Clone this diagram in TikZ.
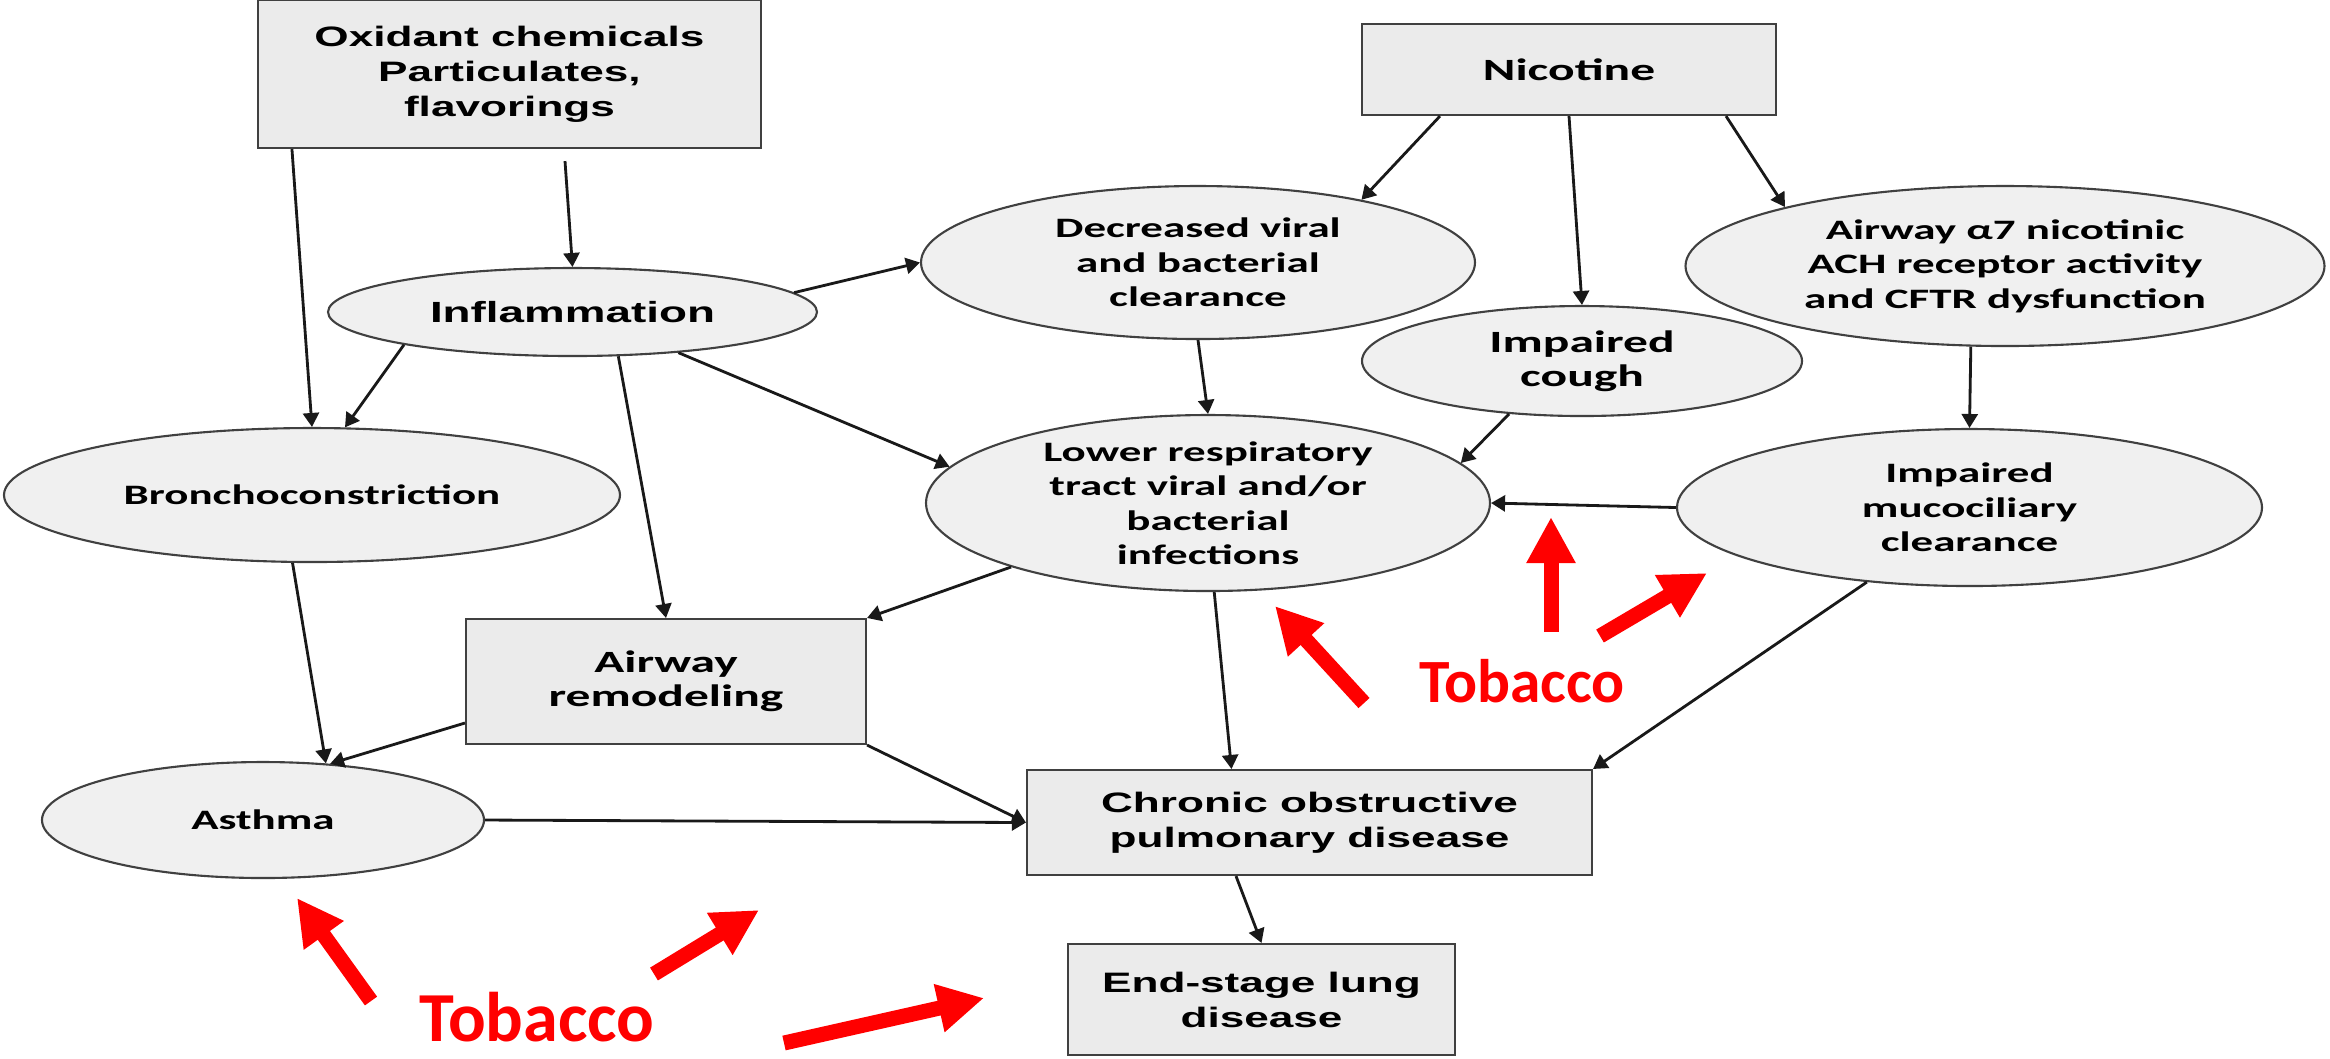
\documentclass[tikz,border=0pt]{standalone}
\usepackage{fontspec}
\usetikzlibrary{arrows.meta,shapes.geometric}
\newfontfamily\arialfont[FakeStretch=1.57]{Liberation Sans}
\newfontfamily\califont[FakeStretch=1.6]{Carlito}
\newfontfamily\tobfont{Carlito}
\definecolor{boxgray}{rgb}{0.92,0.92,0.92}
\definecolor{ellgray}{rgb}{0.94,0.94,0.94}
\definecolor{edgegray}{rgb}{0.25,0.25,0.25}
\definecolor{tobred}{rgb}{1.0,0.0,0.0}

\begin{document}
\begin{tikzpicture}[
  >={Triangle[length=1.4mm, width=1.6mm]},
  factorbox/.style={rectangle, fill=boxgray, draw=edgegray, line width=0.6pt, align=center, inner sep=0pt},
  effect/.style={ellipse, fill=ellgray, draw=edgegray, line width=0.6pt, align=center, inner sep=0pt},
  arialtxt/.style={font=\arialfont\bfseries\fontsize{8}{10}\selectfont},
  caltxt/.style={font=\califont\bfseries\fontsize{8}{9.8}\selectfont},
  calbig/.style={font=\califont\bfseries\fontsize{8.8}{9.8}\selectfont},
  link/.style={->, line width=0.8pt, black!90},
  tobarrow/.style={-{Triangle[length=4.6mm, width=4.6mm]}, line width=1.5mm, tobred},
  toblabel/.style={font=\tobfont\bfseries\fontsize{17.5}{20}\selectfont, text=tobred, inner sep=0pt},
]
\useasboundingbox (0,0) rectangle (23.3,-10.58);

% ---- exposures ----
\node[factorbox, arialtxt, minimum width=5.03cm, minimum height=1.48cm] (oxid) at (5.095,-0.74) {Oxidant chemicals\\Particulates,\\flavorings};
\node[factorbox, calbig, minimum width=4.14cm, minimum height=0.91cm] (nico) at (15.69,-0.695) {Nicotine};

% ---- first effects ----
\node[effect, arialtxt, font=\arialfont\bfseries\fontsize{8.3}{10}\selectfont, minimum width=4.89cm, minimum height=0.88cm] (infl) at (5.725,-3.12) {Inflammation};
\node[effect, caltxt, minimum width=5.54cm, minimum height=1.53cm] (decr) at (11.98,-2.625) {Decreased viral\\and bacterial\\clearance};
\node[effect, calbig, minimum width=4.40cm, minimum height=1.10cm] (cough) at (15.82,-3.61) {Impaired\\cough};
\node[effect, caltxt, minimum width=6.39cm, minimum height=1.60cm] (achr) at (20.05,-2.66) {Airway α7 nicotinic\\ACH receptor activity\\and CFTR dysfunction};

% ---- second effects ----
\node[effect, caltxt, minimum width=6.16cm, minimum height=1.34cm] (bron) at (3.12,-4.95) {Bronchoconstriction};
\node[effect, caltxt, minimum width=5.64cm, minimum height=1.76cm, inner ysep=-4pt] (lrti) at (12.08,-5.03) {Lower respiratory\\tract viral and/or\\bacterial\\infections};
\node[effect, caltxt, minimum width=5.85cm, minimum height=1.57cm] (muco) at (19.695,-5.075) {Impaired\\mucociliary\\clearance};
\node[factorbox, calbig, minimum width=4.00cm, minimum height=1.25cm] (remod) at (6.66,-6.815) {Airway\\remodeling};

% ---- diseases ----
\node[effect, caltxt, minimum width=4.42cm, minimum height=1.16cm] (asth) at (2.63,-8.2) {Asthma};
\node[factorbox, arialtxt, minimum width=5.65cm, minimum height=1.05cm] (copd) at (13.095,-8.225) {Chronic obstructive\\pulmonary disease};
\node[factorbox, arialtxt, minimum width=3.87cm, minimum height=1.11cm] (endst) at (12.615,-9.995) {End-stage lung\\disease};

% ---- tobacco labels ----
\node[toblabel] (tob1) at (15.22,-6.81) {Tobacco};
\node[toblabel, font=\tobfont\bfseries\fontsize{20}{22}\selectfont] (tob2) at (5.37,-10.17) {Tobacco};

% ---- causal links ----
\draw[link] ([xshift=3.5mm]oxid.south west) -- (bron.north);
\draw[link] ([xshift=5.55mm,yshift=-1.2mm]oxid.south) -- (infl.north);
\draw[link] (infl.191) -- (bron.64);
\draw[link] (infl.5) -- (decr.west);
\draw[link] (infl.-44) -- (remod.north);
\draw[link] (infl.-21) -- (lrti.172);
\draw[link] ([xshift=-12.9mm]nico.south) -- (decr.21);
\draw[link] (nico.south) -- (cough.north);
\draw[link] ([xshift=15.7mm]nico.south) -- (achr.165);
\draw[link] (decr.south) -- (lrti.north);
\draw[link] (cough.-144) -- (lrti.9);
\draw[link] (achr.-113) -- (muco.north);
\draw[link] (muco.west) -- (lrti.east);
\draw[link] (lrti.-162) -- (remod.north east);
\draw[link] (lrti.-86) -- ([xshift=-7.8mm]copd.north);
\draw[link] (muco.-144) -- (copd.north east);
\draw[link] (bron.-106) -- (asth.42);
\draw[link] ([yshift=-4.15mm]remod.west) -- (asth.40);
\draw[link] (remod.south east) -- (copd.west);
\draw[link] (asth.east) -- (copd.west);
\draw[link] ([xshift=-7.35mm]copd.south) -- (endst.north);

% ---- tobacco arrows ----
\coordinate (r1s) at (13.64,-7.03);  \coordinate (r1e) at (12.75,-6.06);
\coordinate (r2s) at (15.51,-6.32);  \coordinate (r2e) at (15.51,-5.17);
\coordinate (r3s) at (16.00,-6.36);  \coordinate (r3e) at (17.07,-5.73);
\coordinate (r4s) at (3.71,-10.01);  \coordinate (r4e) at (2.97,-8.98);
\coordinate (r5s) at (6.54,-9.74);   \coordinate (r5e) at (7.59,-9.10);
\coordinate (r6s) at (7.84,-10.43);  \coordinate (r6e) at (9.84,-9.98);
\foreach \i in {1,...,6}
  \draw[tobarrow] (r\i s) -- (r\i e);

\end{tikzpicture}
\end{document}
